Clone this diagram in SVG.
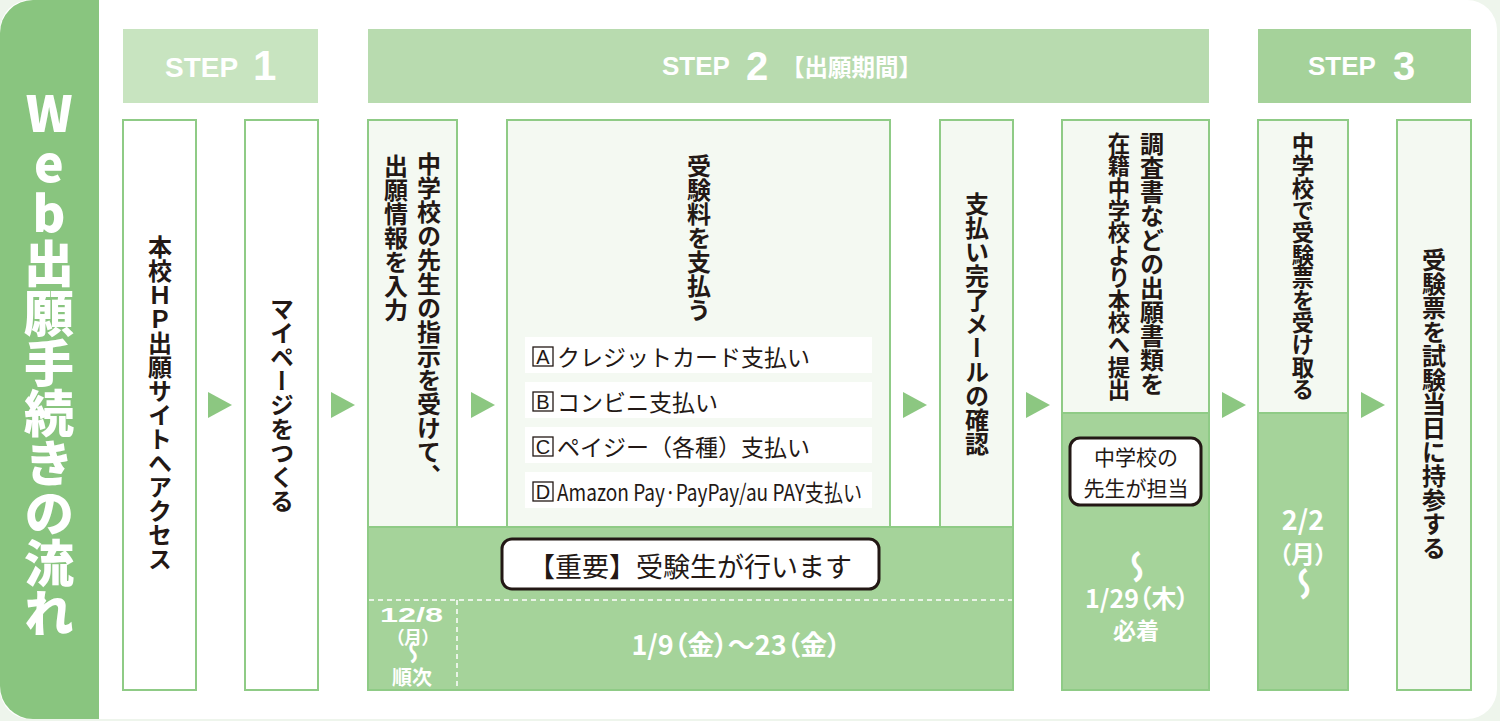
<svg xmlns="http://www.w3.org/2000/svg" width="1500" height="721" viewBox="0 0 1500 721">
<style>
.v{writing-mode:vertical-rl;text-orientation:upright;font-family:"Noto Sans CJK JP","Noto Sans CJK SC",sans-serif;font-weight:700;fill:#231815;font-size:24px}
.box{stroke:#8fcb86;stroke-width:2}
.wh{fill:#fff}
.lt{fill:#f4f9f2}
.gr{fill:#a5d39a}
.step{font-family:"Liberation Sans",Arial,sans-serif;font-weight:700;fill:#fff}
.wt{fill:#fff;font-family:"Noto Sans CJK JP","Noto Sans CJK SC",sans-serif;font-weight:700;text-anchor:middle;dominant-baseline:central;font-feature-settings:"palt"}
.wave{writing-mode:vertical-rl;fill:#fff;font-family:"Noto Sans CJK JP","Noto Sans CJK SC",sans-serif;font-weight:700;text-anchor:middle}
.opt{font-family:"Noto Sans CJK JP","Noto Sans CJK SC",sans-serif;font-size:23px;fill:#231815;dominant-baseline:central}
.ltr{font-family:"Liberation Sans",Arial,sans-serif;font-size:20px;fill:#231815;text-anchor:middle;dominant-baseline:central}
.lbox{fill:#fff;stroke:#231815;stroke-width:1.3}
.arrow{fill:#8cc781}
.dash{stroke:#fff;stroke-width:1.5;stroke-dasharray:5 4;fill:none}
.label{fill:#fff;stroke:#231815;stroke-width:3}
.lt2{font-family:"Noto Sans CJK JP","Noto Sans CJK SC",sans-serif;fill:#231815;text-anchor:middle;dominant-baseline:central}
</style>
<rect width="1500" height="721" fill="#eef5ec"/>
<rect x="0" y="0" width="1497" height="719" rx="30" fill="#fff"/>
<g id="title">
<path d="M33,0 H99 V719 H33 A33,33 0 0 1 0,686 V33 A33,33 0 0 1 33,0 Z" fill="#89c57f"/>
<text class="v" x="49" y="363" text-anchor="middle" style="font-size:50px;fill:#fff;font-weight:900">Web出願手続きの流れ</text>
</g>
<g id="step1">
<rect x="123" y="29" width="195" height="74" fill="#c8e4c0"/>
<text class="step" x="165" y="77" font-size="28">STEP</text>
<text class="step" x="253" y="80" font-size="42">1</text>
</g>
<g id="step2">
<rect x="368" y="29" width="841" height="74" fill="#b8dbaf"/>
<text class="step" x="662" y="75" font-size="26">STEP</text>
<text class="step" x="746" y="80" font-size="40">2</text>
<text x="781" y="66" font-size="23.5" font-weight="700" fill="#fff" dominant-baseline="central" font-family="Noto Sans CJK JP, Noto Sans CJK SC, sans-serif">【出願期間】</text>
</g>
<g id="step3">
<rect x="1258" y="29" width="213" height="74" fill="#a5d29a"/>
<text class="step" x="1308" y="75" font-size="26">STEP</text>
<text class="step" x="1393" y="80" font-size="40">3</text>
</g>
<g id="node1">
<rect class="box wh" x="123" y="120" width="73" height="570"/>
<text class="v" x="160" y="403" text-anchor="middle">本校ＨＰ出願サイトへアクセス</text>
</g>
<g id="node2">
<rect class="box wh" x="245" y="120" width="73" height="570"/>
<text class="v" x="282" y="405" text-anchor="middle">マイページをつくる</text>
</g>
<g id="period">
<rect class="box gr" x="368" y="527" width="645" height="163"/>
<line class="dash" x1="369" y1="600" x2="1012" y2="600"/>
<line class="dash" x1="457" y1="600" x2="457" y2="689"/>
<rect class="label" x="502" y="539" width="377" height="50" rx="10"/>
<text class="lt2" x="690" y="565" font-size="27">【重要】受験生が行います</text>
<text x="380" y="622" font-size="20" font-weight="700" fill="#fff" font-family="Liberation Sans, Arial, sans-serif" textLength="63" lengthAdjust="spacingAndGlyphs">12/8</text>
<text class="wt" x="413" y="636" font-size="18">（月）</text>
<text class="wave" x="413" y="652" font-size="24">〜</text>
<text class="wt" x="412" y="676" font-size="20">順次</text>
<text class="wt" x="736" y="643" font-size="27">1/9（金）～23（金）</text>
</g>
<g id="node3">
<rect class="box lt" x="368" y="120" width="89" height="407"/>
<text class="v" x="429" y="152">中学校の先生の指示を受けて、</text>
<text class="v" x="396" y="154">出願情報を入力</text>
</g>
<g id="node4">
<rect class="box lt" x="507" y="120" width="383" height="407"/>
<text class="v" x="699" y="154">受験料を支払う</text>
<rect fill="#fff" x="525" y="337" width="347" height="36"/>
<rect fill="#fff" x="525" y="382" width="347" height="36"/>
<rect fill="#fff" x="525" y="427" width="347" height="36"/>
<rect fill="#fff" x="525" y="472" width="347" height="36"/>
<rect class="lbox" x="533" y="347" width="20" height="19"/>
<text class="ltr" x="543" y="357">A</text>
<text class="opt" x="557" y="356">クレジットカード支払い</text>
<rect class="lbox" x="533" y="392" width="20" height="19"/>
<text class="ltr" x="543" y="402">B</text>
<text class="opt" x="557" y="401">コンビニ支払い</text>
<rect class="lbox" x="533" y="437" width="20" height="19"/>
<text class="ltr" x="543" y="447">C</text>
<text class="opt" x="557" y="446">ペイジー（各種）支払い</text>
<rect class="lbox" x="533" y="482" width="20" height="19"/>
<text class="ltr" x="543" y="492">D</text>
<text class="opt" x="557" y="491" textLength="305" lengthAdjust="spacingAndGlyphs">Amazon Pay·PayPay/au PAY支払い</text>
</g>
<g id="node5">
<rect class="box lt" x="940" y="120" width="73" height="407"/>
<text class="v" x="977" y="324" text-anchor="middle">支払い完了メールの確認</text>
</g>
<g id="node6">
<rect class="box lt" x="1062" y="120" width="147" height="293"/>
<rect class="box gr" x="1062" y="413" width="147" height="277"/>
<text class="v" x="1152" y="132">調査書などの出願書類を</text>
<text class="v" x="1119" y="132" style="font-size:22.4px">在籍中学校より本校へ提出</text>
<rect class="label" x="1070" y="438" width="131" height="67" rx="10"/>
<text class="lt2" font-size="21"><tspan x="1136" y="456">中学校の</tspan><tspan x="1136" y="487">先生が担当</tspan></text>
<text class="wave" x="1137" y="567" font-size="34">〜</text>
<text class="wt" x="1137" y="597" font-size="25">1/29（木）</text>
<text class="wt" x="1136" y="629" font-size="23">必着</text>
</g>
<g id="node7">
<rect class="box lt" x="1258" y="120" width="90" height="293"/>
<rect class="box gr" x="1258" y="413" width="90" height="277"/>
<text class="v" x="1303" y="132" style="font-size:22.4px">中学校で受験票を受け取る</text>
<text class="wt" x="1303" y="518" font-size="27">2/2</text>
<text class="wt" x="1303" y="552" font-size="24">（月）</text>
<text class="wave" x="1304" y="584" font-size="34">〜</text>
</g>
<g id="node8">
<rect class="box lt" x="1397" y="120" width="74" height="570"/>
<text class="v" x="1434" y="404" text-anchor="middle">受験票を試験当日に持参する</text>
</g>
<g id="connectors">
<polygon class="arrow" points="208,392 232,405 208,418"/>
<polygon class="arrow" points="331,392 355,405 331,418"/>
<polygon class="arrow" points="471,392 495,405 471,418"/>
<polygon class="arrow" points="903,392 927,405 903,418"/>
<polygon class="arrow" points="1026,392 1050,405 1026,418"/>
<polygon class="arrow" points="1222,392 1246,405 1222,418"/>
<polygon class="arrow" points="1361,392 1385,405 1361,418"/>
</g>
</svg>
